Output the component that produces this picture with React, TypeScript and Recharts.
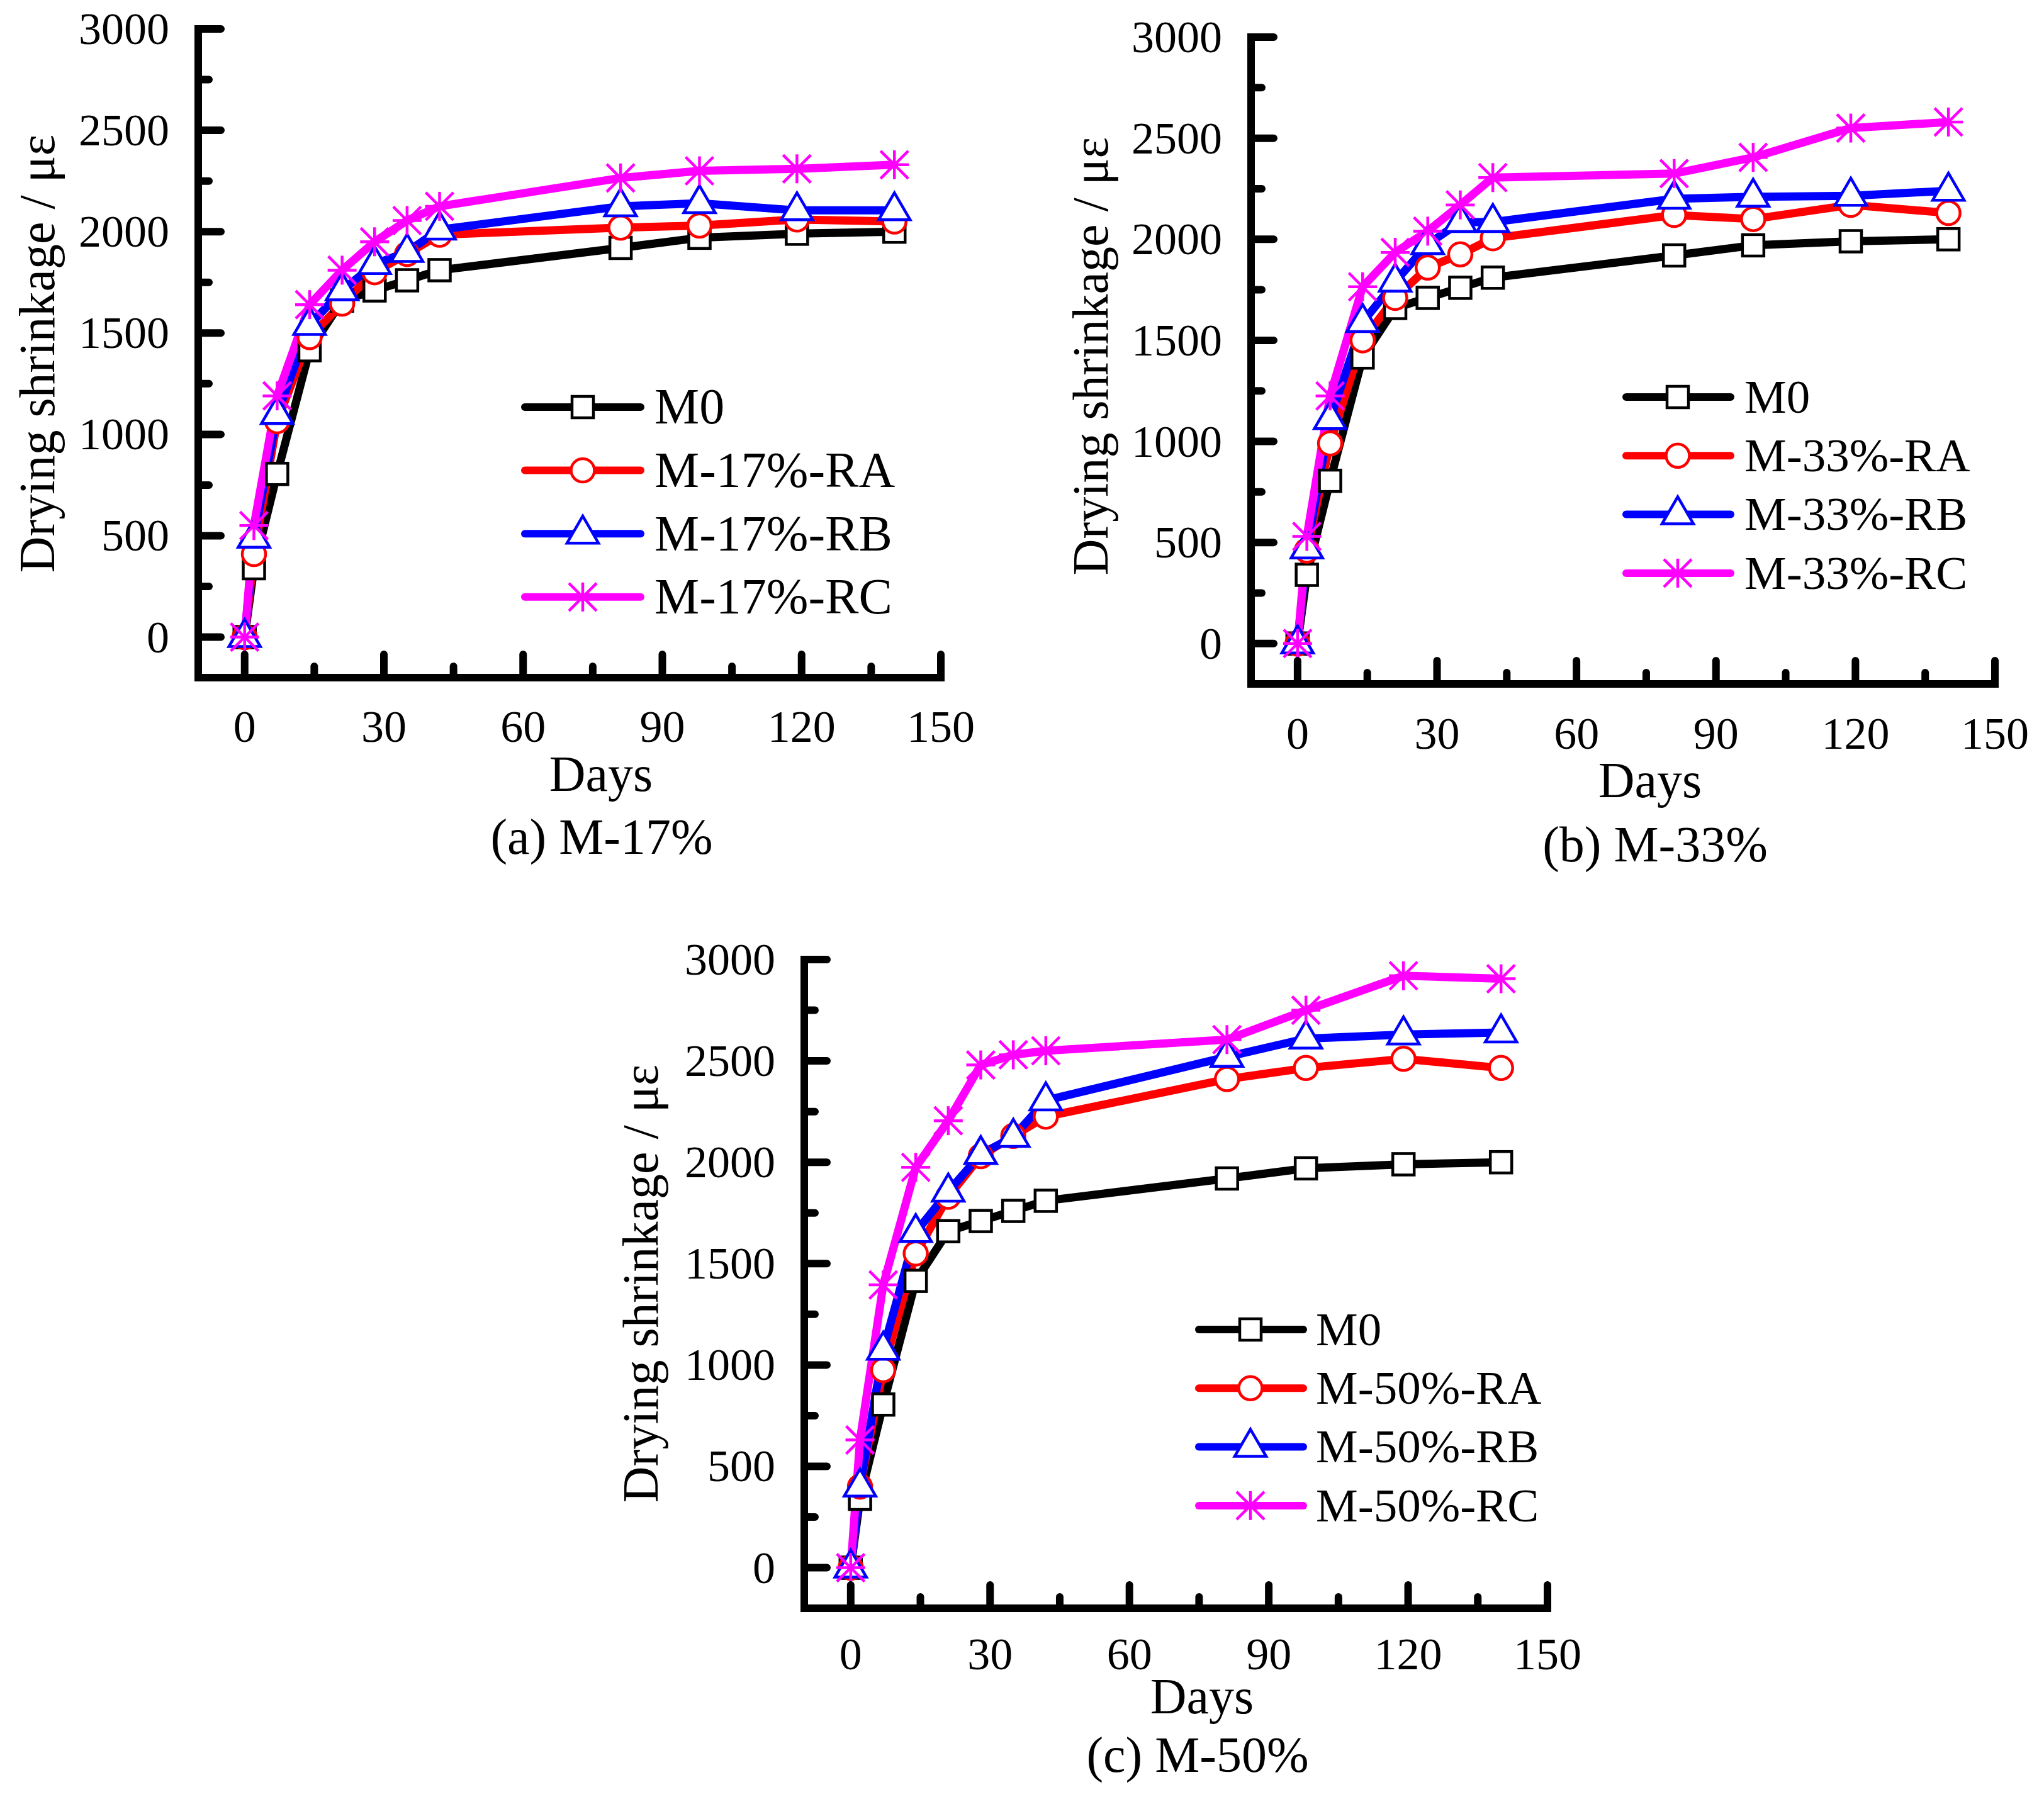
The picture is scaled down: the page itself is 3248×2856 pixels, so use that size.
import React from 'react';
import { LineChart, Line, XAxis, YAxis, Label, Legend } from 'recharts';

// sampling days (same for all three mixes)
const DAYS = [0, 2, 7, 14, 21, 28, 35, 42, 81, 98, 119, 140];

// reference mortar, identical in every panel
const M0 = [0, 340, 805, 1415, 1660, 1710, 1760, 1810, 1920, 1970, 1990, 2000];

// (a) M-17%
const RA_17 = [0, 410, 1065, 1480, 1645, 1800, 1890, 1985, 2020, 2030, 2060, 2050];
const RB_17 = [0, 490, 1100, 1540, 1710, 1840, 1900, 2010, 2125, 2140, 2105, 2105];
const RC_17 = [0, 550, 1190, 1640, 1810, 1950, 2055, 2125, 2265, 2300, 2310, 2330];

// (b) M-33%
const RA_33 = [0, 460, 990, 1500, 1710, 1860, 1925, 2005, 2120, 2100, 2170, 2130];
const RB_33 = [0, 470, 1110, 1590, 1790, 1975, 2085, 2085, 2200, 2210, 2215, 2240];
const RC_33 = [0, 530, 1225, 1765, 1935, 2040, 2170, 2305, 2325, 2405, 2550, 2580];

// (c) M-50%
const RA_50 = [0, 400, 975, 1550, 1830, 2030, 2130, 2225, 2410, 2465, 2510, 2465];
const RB_50 = [0, 400, 1075, 1655, 1855, 2040, 2125, 2305, 2520, 2610, 2630, 2640];
const RC_50 = [0, 630, 1395, 1975, 2205, 2480, 2530, 2550, 2605, 2750, 2920, 2905];

const X_TICKS = [0, 15, 30, 45, 60, 75, 90, 105, 120, 135, 150];
const Y_TICKS = [0, 250, 500, 750, 1000, 1250, 1500, 1750, 2000, 2250, 2500, 2750, 3000];

const FONT = '"Liberation Serif", "Times New Roman", serif';

const KEYS = ['M0', 'RA', 'RB', 'RC'];
const SERIES_STYLE = {
  M0: { color: '#000000', shape: 'square' },
  RA: { color: '#ff0000', shape: 'circle' },
  RB: { color: '#0000ff', shape: 'triangle' },
  RC: { color: '#ff00ff', shape: 'star' },
};

const buildRows = (ra, rb, rc) =>
  DAYS.map((day, i) => ({ day, M0: M0[i], RA: ra[i], RB: rb[i], RC: rc[i] }));

// layout of each panel, in chart-local pixels
const PANELS = [
  {
    id: 'a', pct: '17%', rows: buildRows(RA_17, RB_17, RC_17),
    left: 0, top: 0, width: 1624, height: 1420,
    margin: { top: 46, right: 129, left: 0, bottom: 43 }, yAxisWidth: 315,
    xLabelDy: 102, yTitle: { x: 86, y: 562 }, days: { x: 955, y: 1257 }, caption: { x: 956, y: 1357 },
    legend: { x: 820, y: 580, w: 700, h: 430, x1: 14, x2: 198, mx: 106, tx: 220, row0: 67, gap: 100.6, font: 80 },
  },
  {
    id: 'b', pct: '33%', rows: buildRows(RA_33, RB_33, RC_33),
    left: 1624, top: 0, width: 1624, height: 1430,
    margin: { top: 59, right: 78, left: 0, bottom: 43 }, yAxisWidth: 364,
    xLabelDy: 103, yTitle: { x: 136, y: 566 }, days: { x: 998, y: 1267 }, caption: { x: 1006, y: 1369 },
    legend: { x: 950, y: 570, w: 620, h: 400, x1: 10, x2: 176, mx: 92, tx: 198, row0: 61, gap: 93.3, font: 75 },
  },
  {
    id: 'c', pct: '50%', rows: buildRows(RA_50, RB_50, RC_50),
    left: 900, top: 1400, width: 1624, height: 1456,
    margin: { top: 125, right: 65, left: 0, bottom: 0 }, yAxisWidth: 378,
    xLabelDy: 97, yTitle: { x: 145, y: 640 }, days: { x: 1010, y: 1323 }, caption: { x: 1003, y: 1416 },
    legend: { x: 995, y: 650, w: 620, h: 400, x1: 10, x2: 176, mx: 92, tx: 196, row0: 63, gap: 93.3, font: 75 },
  },
];

function Marker({ shape, cx, cy, color }) {
  if (cx == null || cy == null) return null;
  if (shape === 'square') {
    return <rect x={cx - 17} y={cy - 17} width={34} height={34} fill="#fff" stroke={color} strokeWidth={4.5} />;
  }
  if (shape === 'circle') {
    return <circle cx={cx} cy={cy} r={18.5} fill="#fff" stroke={color} strokeWidth={4.5} />;
  }
  if (shape === 'triangle') {
    return (
      <path
        d={`M${cx} ${cy - 28}L${cx + 25} ${cy + 15}L${cx - 25} ${cy + 15}Z`}
        fill="#fff"
        stroke={color}
        strokeWidth={4.5}
      />
    );
  }
  const r = 23;
  const d = 22;
  return (
    <g stroke={color} strokeWidth={4.5}>
      <line x1={cx} y1={cy - r} x2={cx} y2={cy + r} />
      <line x1={cx - r} y1={cy} x2={cx + r} y2={cy} />
      <line x1={cx - d} y1={cy - d} x2={cx + d} y2={cy + d} />
      <line x1={cx - d} y1={cy + d} x2={cx + d} y2={cy - d} />
    </g>
  );
}

const makeXTick = (labelDy) => ({ x, y, payload }) => {
  const major = payload.value % 30 === 0;
  return (
    <g>
      <line x1={x} x2={x} y1={y} y2={y - (major ? 37 : 18)} stroke="#000" strokeWidth={12} strokeLinecap="round" />
      {major && (
        <text x={x} y={y + labelDy} textAnchor="middle" fontFamily={FONT} fontSize={72} fill="#000">
          {payload.value}
        </text>
      )}
    </g>
  );
};

const YTick = ({ x, y, payload }) => {
  const major = payload.value % 500 === 0;
  return (
    <g>
      <line x1={x} x2={x + (major ? 36 : 17)} y1={y} y2={y} stroke="#000" strokeWidth={12} strokeLinecap="round" />
      {major && (
        <text x={x - 46} y={y + 24} textAnchor="end" fontFamily={FONT} fontSize={72} fill="#000">
          {payload.value}
        </text>
      )}
    </g>
  );
};

const makeLegend = (lg) => ({ payload }) => (
  <svg width={lg.w} height={lg.h} style={{ display: 'block', overflow: 'visible' }}>
    {KEYS.map((key, i) => {
      const item = (payload || []).find((p) => p.dataKey === key);
      const st = SERIES_STYLE[key];
      const y = lg.row0 + i * lg.gap;
      return (
        <g key={key}>
          <line x1={lg.x1} x2={lg.x2} y1={y} y2={y} stroke={st.color} strokeWidth={12} strokeLinecap="round" />
          <Marker shape={st.shape} cx={lg.mx} cy={y} color={st.color} />
          <text x={lg.tx} y={y + lg.font * 0.33} fontFamily={FONT} fontSize={lg.font} fill="#000">
            {item ? item.value : key}
          </text>
        </g>
      );
    })}
  </svg>
);

function Panel({ p }) {
  const names = {
    M0: 'M0',
    RA: `M-${p.pct}-RA`,
    RB: `M-${p.pct}-RB`,
    RC: `M-${p.pct}-RC`,
  };
  return (
    <div style={{ position: 'absolute', left: p.left, top: p.top }}>
      <LineChart width={p.width} height={p.height} data={p.rows} margin={p.margin}>
        <XAxis
          dataKey="day"
          type="number"
          domain={[-10, 150]}
          ticks={X_TICKS}
          interval={0}
          tickSize={0}
          tickMargin={0}
          tickLine={false}
          tick={makeXTick(p.xLabelDy)}
          axisLine={{ stroke: '#000', strokeWidth: 12, strokeLinecap: 'square' }}
          height={300}
        >
          <Label
            content={() => (
              <g>
                <text x={p.days.x} y={p.days.y} textAnchor="middle" fontFamily={FONT} fontSize={80} fill="#000">
                  Days
                </text>
                <text x={p.caption.x} y={p.caption.y} textAnchor="middle" fontFamily={FONT} fontSize={80} fill="#000">
                  {`(${p.id}) M-${p.pct}`}
                </text>
              </g>
            )}
          />
        </XAxis>
        <YAxis
          type="number"
          domain={[-200, 3000]}
          ticks={Y_TICKS}
          interval={0}
          tickSize={0}
          tickMargin={0}
          tickLine={false}
          tick={YTick}
          axisLine={{ stroke: '#000', strokeWidth: 12, strokeLinecap: 'square' }}
          width={p.yAxisWidth}
        >
          <Label
            content={() => (
              <text
                x={p.yTitle.x}
                y={p.yTitle.y}
                transform={`rotate(-90 ${p.yTitle.x} ${p.yTitle.y})`}
                textAnchor="middle"
                fontFamily={FONT}
                fontSize={80}
                fill="#000"
              >
                Drying shrinkage / με
              </text>
            )}
          />
        </YAxis>
        <Legend
          layout="vertical"
          align="center"
          verticalAlign="middle"
          content={makeLegend(p.legend)}
          wrapperStyle={{ left: p.legend.x, top: p.legend.y, width: p.legend.w, height: p.legend.h }}
        />
        {KEYS.map((key) => {
          const st = SERIES_STYLE[key];
          return (
            <Line
              key={key}
              type="linear"
              dataKey={key}
              name={names[key]}
              stroke={st.color}
              strokeWidth={13}
              strokeLinejoin="round"
              isAnimationActive={false}
              activeDot={false}
              dot={(props) => (
                <Marker key={`${key}-${props.index}`} shape={st.shape} cx={props.cx} cy={props.cy} color={st.color} />
              )}
            />
          );
        })}
      </LineChart>
    </div>
  );
}

export default function App() {
  return (
    <div style={{ position: 'absolute', left: 0, top: 0, width: 3248, height: 2856, background: '#fff' }}>
      {PANELS.map((p) => (
        <Panel key={p.id} p={p} />
      ))}
    </div>
  );
}
